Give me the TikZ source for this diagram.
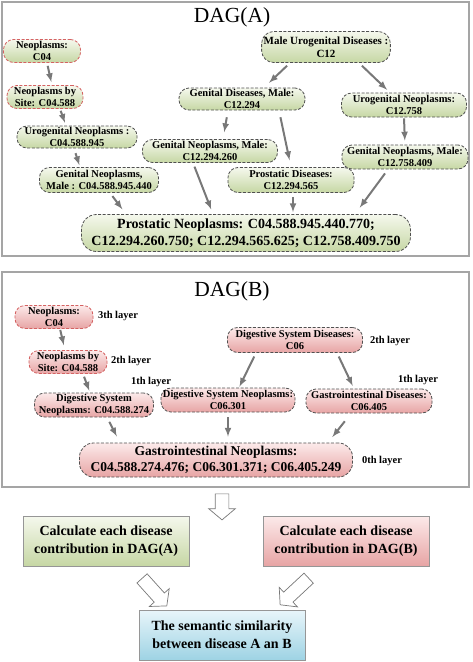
\documentclass[tikz,border=0pt]{standalone}
\usepackage{fontspec}
\setmainfont{Liberation Serif}[BoldFont={Liberation Serif Bold}]
\usetikzlibrary{shapes.arrows}
\definecolor{greentop}{RGB}{245,248,237}
\definecolor{greenbot}{RGB}{198,215,164}
\definecolor{redtop}{RGB}{252,234,234}
\definecolor{redbot}{RGB}{231,164,164}
\definecolor{bluetop}{RGB}{232,245,250}
\definecolor{bluebot}{RGB}{158,211,228}
\definecolor{edge}{RGB}{80,80,80}
\definecolor{rededge}{RGB}{212,98,98}
\definecolor{linkgray}{RGB}{120,120,120}
\definecolor{frame}{RGB}{165,165,165}
\definecolor{boxedge}{RGB}{150,150,150}
\tikzstyle{term}=[rounded corners=10pt, draw=edge, dash pattern=on 3pt off 1.6pt, line width=0.8pt, align=center, inner xsep=2pt, inner ysep=1pt, minimum height=23pt, font=\fontsize{10.5}{12}\selectfont\bfseries]
\tikzset{dagA/.style={top color=greentop, bottom color=greenbot}}
\tikzset{dagB/.style={top color=redtop, bottom color=redbot}}
\tikzset{rootedge/.style={draw=rededge}}
\tikzstyle{isa}=[-latex, line width=2pt, color=linkgray]
\tikzstyle{layer}=[font=\fontsize{10.5}{12}\selectfont\bfseries]
\tikzstyle{title}=[font=\fontsize{21.5}{24}\selectfont]
\tikzstyle{panel}=[draw=frame, line width=1.2pt]
\tikzstyle{calcbox}=[draw=boxedge, line width=0.8pt, minimum width=166pt, minimum height=50pt, align=center, font=\fontsize{14}{18}\selectfont\bfseries]
\tikzstyle{hollow}=[single arrow, draw=linkgray, fill=white, line width=0.7pt, inner xsep=0pt, inner ysep=6.5pt, single arrow head extend=6.5pt, single arrow tip angle=100]

\begin{document}
\begin{tikzpicture}[x=1pt,y=-1pt]
  \useasboundingbox (0,0) rectangle (472,662);
  %% Frames
  \draw[panel] (2,2) rectangle (469,256);
  \draw[panel] (2,272) rectangle (469,487);

  %% DAG(A)
  \draw (232,17) node[title] (tA) {DAG(A)};
  \draw (42,51) node[term,dagA,rootedge,minimum width=77pt] (a1) {Neoplasms:\\C04};
  \draw (45,97) node[term,dagA,rootedge,minimum width=76pt] (a2) {Neoplasms by\\Site: C04.588};
  \draw (77,137) node[term,dagA,minimum width=120pt,minimum height=22pt] (a3) {Urogenital Neoplasms :\\C04.588.945};
  \draw (99,180) node[term,dagA,minimum width=119pt,minimum height=25pt] (a4) {Genital Neoplasms,\\Male : C04.588.945.440};
  \draw (326,47) node[term,dagA,minimum width=126pt,minimum height=31pt,rounded corners=12pt,font=\fontsize{11}{13}\selectfont\bfseries] (a5) {Male Urogenital Diseases :\\C12};
  \draw (242,99) node[term,dagA,minimum width=126pt,minimum height=22pt] (a6) {Genital Diseases, Male:\\C12.294};
  \draw (404,105) node[term,dagA,minimum width=125pt,minimum height=24pt] (a7) {Urogenital Neoplasms:\\C12.758};
  \draw (210,151) node[term,dagA,minimum width=135pt] (a8) {Genital Neoplasms, Male:\\C12.294.260};
  \draw (405,157) node[term,dagA,minimum width=126pt,minimum height=24pt] (a9) {Genital Neoplasms, Male:\\C12.758.409};
  \draw (291,180) node[term,dagA,minimum width=126pt,minimum height=25pt] (a10) {Prostatic Diseases:\\C12.294.565};
  \draw (246,233) node[term,dagA,minimum width=329pt,minimum height=37pt,rounded corners=15pt,font=\fontsize{14}{17}\selectfont\bfseries] (a11) {Prostatic Neoplasms: C04.588.945.440.770;\\C12.294.260.750; C12.294.565.625; C12.758.409.750};

  \draw[isa,shorten <=3pt,shorten >=3pt] ([xshift=5pt]a1.south) -- ([xshift=7pt]a2.north);
  \draw[isa,shorten <=2pt,shorten >=3pt] ([xshift=15pt]a2.south) -- ([xshift=-11pt]a3.north);
  \draw[isa,shorten <=5pt,shorten >=2pt] ([xshift=-3pt]a3.south) -- ([xshift=-19pt]a4.north);
  \draw[isa,shorten <=4pt,shorten >=6pt] ([xshift=11pt]a4.south) -- ([xshift=-120pt]a11.north);
  \draw[isa,shorten <=4pt,shorten >=7pt] ([xshift=-36pt]a5.south) -- ([xshift=22pt]a6.north);
  \draw[isa,shorten <=4pt,shorten >=4pt] ([xshift=33pt]a5.south) -- ([xshift=-14pt]a7.north);
  \draw[isa,shorten <=7pt,shorten >=7pt] ([xshift=-14pt]a6.south) -- ([xshift=13pt]a8.north);
  \draw[isa,shorten <=7pt,shorten >=7pt] ([xshift=37pt]a6.south) -- (a10.north);
  \draw[isa,shorten <=1pt,shorten >=4pt] (a7.south) -- (a9.north);
  \draw[isa,shorten <=4pt,shorten >=5pt] ([xshift=-17pt]a8.south) -- ([xshift=-33pt]a11.north);
  \draw[isa,shorten <=4pt,shorten >=2pt] ([xshift=2pt]a10.south) -- ([xshift=47pt]a11.north);
  \draw[isa,shorten <=5pt,shorten >=8pt] ([xshift=-17pt]a9.south) -- ([xshift=109pt]a11.north);

  %% DAG(B)
  \draw (232,291) node[title] (tB) {DAG(B)};
  \draw (54,317) node[term,dagB,rootedge,minimum width=78pt] (b1) {Neoplasms:\\C04};
  \draw (68,362) node[term,dagB,rootedge,minimum width=78pt] (b2) {Neoplasms by\\Site: C04.588};
  \draw (94,405) node[term,dagB,minimum width=119pt,minimum height=24pt] (b3) {Digestive System\\Neoplasms: C04.588.274};
  \draw (295,340) node[term,dagB,minimum width=135pt,minimum height=25pt] (b4) {Digestive System Diseases:\\C06};
  \draw (228,400) node[term,dagB,minimum width=134pt,minimum height=24pt] (b5) {Digestive System Neoplasms:\\C06.301};
  \draw (369,401) node[term,dagB,minimum width=126pt,minimum height=24pt] (b6) {Gastrointestinal Diseases:\\C06.405};
  \draw (216,460) node[term,dagB,minimum width=273pt,minimum height=34pt,rounded corners=14pt,font=\fontsize{13.5}{16.5}\selectfont\bfseries] (b7) {Gastrointestinal Neoplasms:\\C04.588.274.476; C06.301.371; C06.405.249};

  \draw (118,316) node[layer] (l3) {3th layer};
  \draw (131,361) node[layer] (l2a) {2th layer};
  \draw (151,382) node[layer] (l1a) {1th layer};
  \draw (390,341) node[layer] (l2b) {2th layer};
  \draw (418,380) node[layer] (l1b) {1th layer};
  \draw (382,461) node[layer] (l0) {0th layer};

  \draw[isa,shorten <=1pt,shorten >=5pt] ([xshift=6pt]b1.south) -- ([xshift=-3pt]b2.north);
  \draw[isa,shorten <=3pt,shorten >=2pt] ([xshift=15pt]b2.south) -- ([xshift=-4pt]b3.north);
  \draw[isa,shorten <=5pt,shorten >=7pt] ([xshift=13pt]b3.south) -- ([xshift=-96pt]b7.north);
  \draw[isa,shorten <=4pt,shorten >=1pt] ([xshift=-39pt]b4.south) -- ([xshift=11pt]b5.north);
  \draw[isa,shorten <=4pt,shorten >=3pt] ([xshift=42pt]b4.south) -- ([xshift=-15pt]b6.north);
  \draw[isa,shorten <=5pt,shorten >=6pt] (b5.south) -- ([xshift=12pt]b7.north);
  \draw[isa,shorten <=10pt,shorten >=7pt] ([xshift=-18pt]b6.south) -- ([xshift=112pt]b7.north);

  %% Similarity steps
  \draw (106,541) node[calcbox,top color=greentop,bottom color=greenbot] (cA) {Calculate each disease\\contribution in DAG(A)};
  \draw (346,541) node[calcbox,top color=redtop,bottom color=redbot] (cB) {Calculate each disease\\contribution in DAG(B)};
  \draw (222,635) node[calcbox,top color=bluetop,bottom color=bluebot] (sim) {The semantic similarity\\between disease A an B};

  \draw (222,504) node[hollow,rotate=-90,minimum height=26pt] (h0) {};
  \draw (152.5,590) node[hollow,rotate=-48,minimum height=37pt] (h1) {};
  \draw (296.5,589.5) node[hollow,rotate=-137,minimum height=39pt] (h2) {};
\end{tikzpicture}
\end{document}
